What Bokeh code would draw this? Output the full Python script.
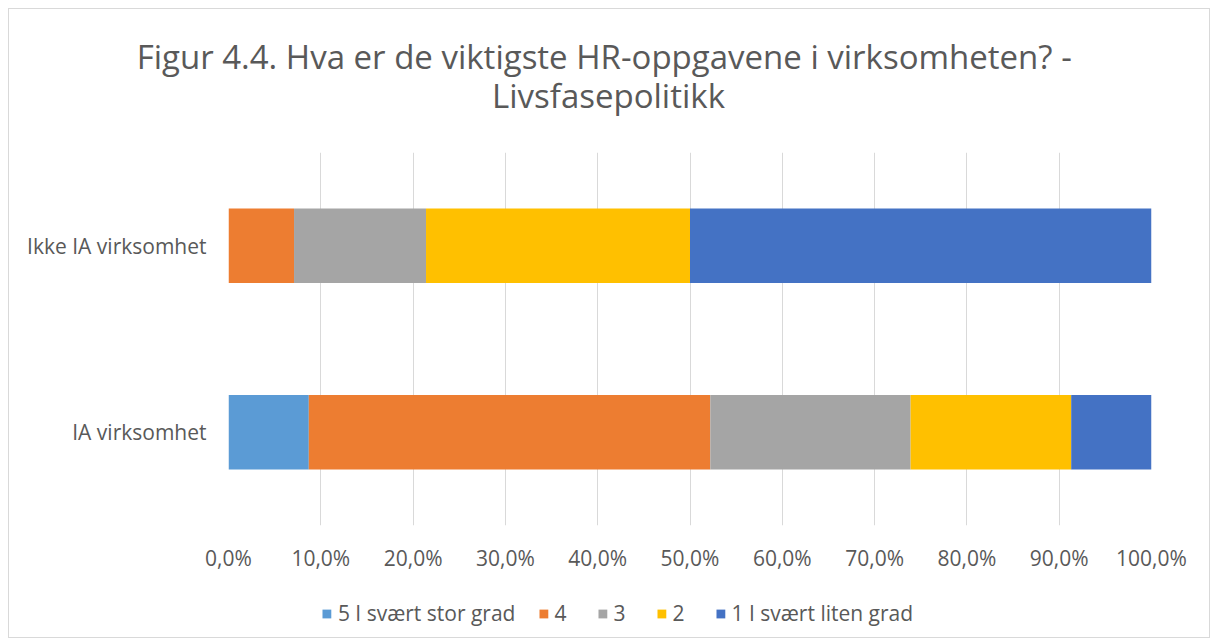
from bokeh.plotting import figure
from bokeh.layouts import column
from bokeh.models import (FactorRange, Range1d, FixedTicker, Label, Legend, LegendItem,
                          ColumnDataSource)
from bokeh.embed import file_html
from bokeh.resources import INLINE

categories = ["IA virksomhet", "Ikke IA virksomhet"]
series = ["5 I svært stor grad", "4", "3", "2", "1 I svært liten grad"]
v5 = [8.7, 0.0]
v4 = [43.5, 7.1]
v3 = [21.7, 14.3]
v2 = [17.4, 28.6]
v1 = [8.7, 50.0]
colors = ["#5B9BD5", "#ED7D31", "#A5A5A5", "#FFC000", "#4472C4"]
tick_values = [0, 10, 20, 30, 40, 50, 60, 70, 80, 90, 100]
tick_labels = ["0,0%", "10,0%", "20,0%", "30,0%", "40,0%", "50,0%", "60,0%", "70,0%", "80,0%", "90,0%", "100,0%"]
title_lines = ["Figur 4.4. Hva er de viktigste HR-oppgavene i virksomheten?  -", "Livsfasepolitikk"]

FONT = "Open Sans"
TXT = "#595959"
W = 1200


def no_align(fig):
    if "frame_align" in fig.properties():
        fig.frame_align = False


# ---- title strip ----
tp = figure(width=W, height=130, x_range=Range1d(0, 1), y_range=Range1d(0, 1),
            output_backend="svg", toolbar_location=None,
            min_border_left=0, min_border_right=0, min_border_top=0, min_border_bottom=0)
tp.axis.visible = False
tp.grid.grid_line_color = None
tp.outline_line_color = None
no_align(tp)
for txt, yy in zip(title_lines, [83, 44]):
    tp.add_layout(Label(x=599, y=yy, x_units="screen", y_units="screen", text=txt,
                        text_align="center", text_baseline="alphabetic", text_font=FONT,
                        text_font_size="33px", text_color=TXT))

# ---- main chart ----
keys = ["s5", "s4", "s3", "s2", "s1"]
src = ColumnDataSource(dict(cat=categories, s5=v5, s4=v4, s3=v3, s2=v2, s1=v1))

p = figure(width=W, height=450, y_range=FactorRange(*categories, range_padding=0),
           x_range=Range1d(0, 100), output_backend="svg", toolbar_location=None,
           min_border_left=219, min_border_right=58, min_border_top=13, min_border_bottom=64)
p.outline_line_color = None
no_align(p)
renderers = p.hbar_stack(keys, y="cat", height=0.4, color=colors, line_color=None, source=src)

p.xaxis.ticker = FixedTicker(ticks=tick_values)
p.xaxis.major_label_overrides = {t: l for t, l in zip(tick_values, tick_labels)}
for ax in (p.xaxis, p.yaxis):
    ax.axis_line_color = None
    ax.major_tick_line_color = None
    ax.minor_tick_line_color = None
    ax.major_tick_out = 0
    ax.major_tick_in = 0
    ax.major_label_text_font = FONT
    ax.major_label_text_font_size = "21px"
    ax.major_label_text_color = TXT
p.xaxis.major_label_standoff = 18
p.yaxis.major_label_standoff = 22
p.xgrid.grid_line_color = "#D9D9D9"
p.xgrid.ticker = FixedTicker(ticks=tick_values)
p.ygrid.grid_line_color = None

# ---- legend strip ----
lp = figure(width=W, height=48, x_range=Range1d(0, 1), y_range=Range1d(0, 1),
            output_backend="svg", toolbar_location=None,
            min_border_left=16, min_border_right=0, min_border_top=0, min_border_bottom=0)
lp.axis.visible = False
lp.grid.grid_line_color = None
lp.outline_line_color = None
no_align(lp)
items = []
for s, c in zip(series, colors):
    r = lp.quad(left=[5], right=[6], top=[6], bottom=[5], fill_color=c, line_color=None)
    items.append(LegendItem(label=s, renderers=[r]))
legend = Legend(items=items, orientation="horizontal", location="center",
                label_text_font=FONT, label_text_font_size="21px", label_text_color=TXT,
                glyph_width=11, glyph_height=11, spacing=22, label_standoff=6, padding=0,
                border_line_color=None, background_fill_alpha=0)
lp.add_layout(legend, "center")

layout = column(tp, p, lp, spacing=0,
                styles={"margin": "8px", "border": "1px solid #D9D9D9"})

open("out.html", "w").write(file_html(layout, INLINE))
